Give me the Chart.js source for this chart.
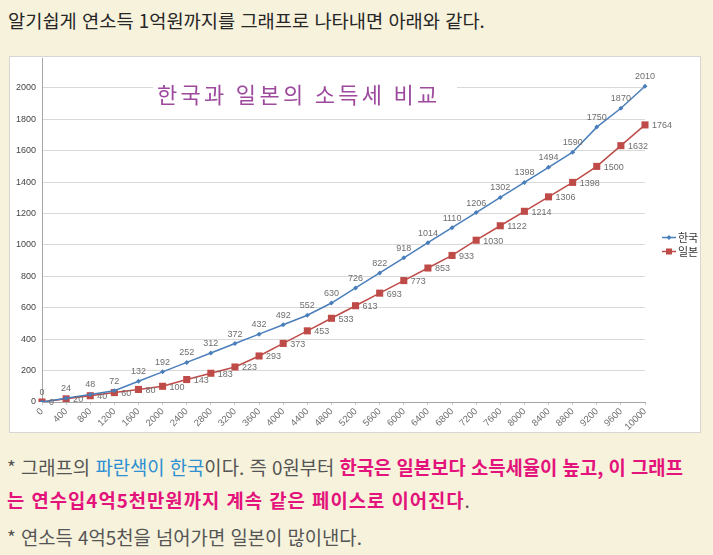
<!DOCTYPE html>
<html lang="ko">
<head>
<meta charset="utf-8">
<title>한국과 일본의 소득세 비교</title>
<script src="https://cdn.jsdelivr.net/npm/chart.js@4/dist/chart.umd.min.js"></script>
<style>
html, body { margin: 0; padding: 0; }
body {
  width: 713px; height: 555px; position: relative; overflow: hidden;
  background: #f6f2dc;
  font-family: "Noto Sans CJK KR", "Noto Sans", sans-serif;
}
.intro { position: absolute; left: 8px; top: 8px; font-size: 18.7px; line-height: 24px; color: #262626; white-space: nowrap; }
#chartBox { position: absolute; left: 10px; top: 57px; width: 690px; height: 375px; background: #fff; outline: 1px solid #d6d6d6; }
#chartBox canvas { position: absolute; left: 0; top: -4px; }
.note { position: absolute; left: 7px; font-size: 18.8px; line-height: 24px; color: #555; white-space: nowrap; }
.blue { color: #2e8fd2; }
.pink { color: #e3137b; font-weight: bold; }
.wide { letter-spacing: 1px; }
</style>
</head>
<body>

<div class="intro">알기쉽게 연소득 1억원까지를 그래프로 나타내면 아래와 같다.</div>

<div id="chartBox"><canvas id="taxChart" width="690" height="379"></canvas></div>

<div class="note" style="top:455px">* 그래프의 <span class="blue">파란색이</span> <span class="blue">한국</span>이다. 즉 0원부터 <span class="pink">한국은 일본보다 소득세율이 높고, 이 그래프</span></div>
<div class="note" style="top:488px"><span class="pink wide">는 연수입4억5천만원까지 계속 같은 페이스로 이어진다</span>.</div>
<div class="note" style="top:525px">* 연소득 4억5천을 넘어가면 일본이 많이낸다.</div>

<script>
// 연소득 (만원) - x축 항목
var incomeLabels = ['0', '400', '800', '1200', '1600', '2000', '2400', '2800', '3200', '3600',
  '4000', '4400', '4800', '5200', '5600', '6000', '6400', '6800', '7200', '7600',
  '8000', '8400', '8800', '9200', '9600', '10000'];

// 소득세 (만원)
var koreaTax = [0, 24, 48, 72, 132, 192, 252, 312, 372, 432,
  492, 552, 630, 726, 822, 918, 1014, 1110, 1206, 1302,
  1398, 1494, 1590, 1750, 1870, 2010];

var japanTax = [0, 20, 40, 60, 80, 100, 143, 183, 223, 293,
  373, 453, 533, 613, 693, 773, 853, 933, 1030, 1122,
  1214, 1306, 1398, 1500, 1632, 1764];

// y축 눈금
var yTickValues = [0, 200, 400, 600, 800, 1000, 1200, 1400, 1600, 1800, 2000];

var seriesNames = ['한국', '일본'];
var chartTitle = '한국과 일본의 소득세 비교';

var labelFont = '9px "Liberation Sans", Arial, sans-serif';

// 제목 (흰 배경 위에)
var titleBox = {
  id: 'titleBox',
  beforeDatasetsDraw: function (chart) {
    var ctx = chart.ctx;
    ctx.save();
    ctx.fillStyle = '#ffffff';
    ctx.fillRect(143, 20, 304, 43);
    ctx.font = '22px "Noto Sans CJK KR"';
    ctx.letterSpacing = '3.3px';
    ctx.fillStyle = '#9d4a9e';
    ctx.textAlign = 'left';
    ctx.textBaseline = 'middle';
    ctx.fillText(chartTitle, 147, 42);
    ctx.restore();
  }
};

// 값 표시
var valueLabels = {
  id: 'valueLabels',
  afterDatasetsDraw: function (chart) {
    var ctx = chart.ctx;
    ctx.save();
    ctx.font = labelFont;
    ctx.fillStyle = '#6e6e6e';
    chart.data.datasets.forEach(function (ds, i) {
      var meta = chart.getDatasetMeta(i);
      meta.data.forEach(function (pt, j) {
        var v = ds.data[j];
        if (i === 0) {
          ctx.textAlign = 'center';
          ctx.textBaseline = 'bottom';
          ctx.fillText(v, pt.x, pt.y - 5);
        } else {
          ctx.textAlign = 'left';
          ctx.textBaseline = 'middle';
          ctx.fillText(v, pt.x + 7, pt.y + 1);
        }
      });
    });
    ctx.restore();
  }
};

// 범례 (선 + 마커)
var legendBox = {
  id: 'legendBox',
  afterDraw: function (chart) {
    var ctx = chart.ctx, area = chart.chartArea;
    var x0 = area.right + 17, mid = chart.height / 2;
    chart.data.datasets.forEach(function (ds, i) {
      var y = mid - 5 + i * 14;
      ctx.save();
      ctx.strokeStyle = ds.borderColor;
      ctx.lineWidth = 1.5;
      ctx.beginPath();
      ctx.moveTo(x0, y);
      ctx.lineTo(x0 + 14, y);
      ctx.stroke();
      ctx.fillStyle = ds.backgroundColor;
      if (ds.pointStyle === 'rect') {
        ctx.fillRect(x0 + 4, y - 3, 6, 6);
      } else {
        ctx.beginPath();
        ctx.moveTo(x0 + 7, y - 2.5);
        ctx.lineTo(x0 + 9.5, y);
        ctx.lineTo(x0 + 7, y + 2.5);
        ctx.lineTo(x0 + 4.5, y);
        ctx.closePath();
        ctx.fill();
      }
      ctx.font = '11px "Noto Sans CJK KR"';
      ctx.fillStyle = '#333';
      ctx.textAlign = 'left';
      ctx.textBaseline = 'middle';
      ctx.fillText(ds.label, x0 + 16, y);
      ctx.restore();
    });
  }
};

var taxChart = new Chart(document.getElementById('taxChart'), {
  type: 'line',
  data: {
    labels: incomeLabels,
    datasets: [{
      label: seriesNames[0],
      data: koreaTax,
      borderColor: '#4a7ebb',
      backgroundColor: '#4a7ebb',
      borderWidth: 1.5,
      pointStyle: 'rectRot',
      pointRadius: 2.5,
      pointBorderWidth: 0,
      tension: 0
    }, {
      label: seriesNames[1],
      data: japanTax,
      borderColor: '#be4b48',
      backgroundColor: '#be4b48',
      borderWidth: 1.5,
      pointStyle: 'rect',
      pointRadius: 5,
      pointBorderWidth: 0,
      tension: 0
    }]
  },
  options: {
    responsive: false,
    animation: false,
    layout: { padding: { right: 55 } },
    plugins: {
      legend: { display: false },
      tooltip: { enabled: false }
    },
    scales: {
      x: {
        offset: false,
        grid: { drawOnChartArea: false, color: '#c8c8c8', tickLength: 3 },
        border: { color: '#a6a6a6' },
        ticks: {
          autoSkip: false, minRotation: 45, maxRotation: 45, padding: 1,
          color: '#707070', font: { size: 9.5, family: '"Liberation Sans", Arial, sans-serif' }
        },
        afterFit: function (s) { s.height = 30; }
      },
      y: {
        min: 0,
        max: 2190,
        grid: { color: '#d9d9d9', drawTicks: false },
        border: { color: '#a6a6a6' },
        ticks: {
          padding: 6,
          color: '#444', font: { size: 9, family: '"Liberation Sans", Arial, sans-serif' },
          callback: function (v) { return String(v); }
        },
        afterBuildTicks: function (s) {
          s.ticks = yTickValues.map(function (v) { return { value: v }; });
        },
        afterFit: function (s) {
          s.width = 32;
          s.paddingTop = 0;
          s.paddingBottom = 0;
        }
      }
    }
  },
  plugins: [titleBox, valueLabels, legendBox]
});
</script>
</body>
</html>
